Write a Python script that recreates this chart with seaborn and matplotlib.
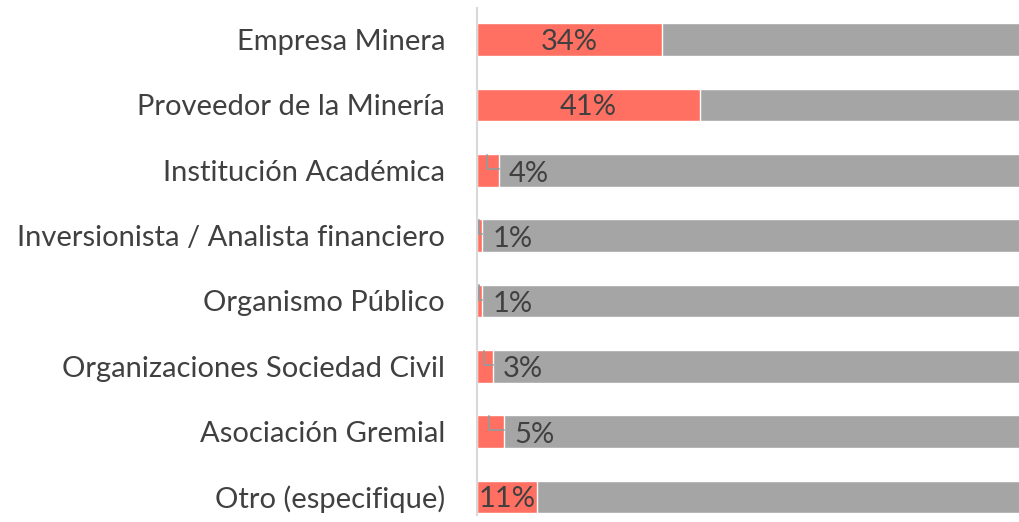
import seaborn as sns
import matplotlib.pyplot as plt
import pandas as pd

categorias = ["Empresa Minera", "Proveedor de la Minería", "Institución Académica",
              "Inversionista / Analista financiero", "Organismo Público",
              "Organizaciones Sociedad Civil", "Asociación Gremial", "Otro (especifique)"]
porcentajes = [34, 41, 4, 1, 1, 3, 5, 11]
total = [100] * len(porcentajes)

rojo = "#ff7062"
gris = "#a5a5a5"
texto = "#404040"

sns.set_style("white")
plt.rcParams['font.family'] = ['Lato', 'DejaVu Sans']

df = pd.DataFrame({"cat": categorias, "pct": porcentajes, "total": total})

fig = plt.figure(figsize=(10.2, 5.22), dpi=100)
ax = fig.add_axes([477 / 1020, 1 - 515 / 522, 1 - 477 / 1020, 507 / 522])

sns.barplot(data=df, x="total", y="cat", color=gris, width=0.5, saturation=1, ax=ax)
sns.barplot(data=df, x="pct", y="cat", color=rojo, width=0.5, saturation=1, ax=ax)

for i, v in enumerate(porcentajes):
    if v >= 10:
        ax.text(v / 2, i + 0.03, f"{v}%", ha="center", va="center", fontsize=21, color=texto)
    else:
        # etiqueta fuera con linea guia
        xl = v * 0.45
        ax.plot([xl, xl, v], [i - 0.24, i - 0.02, i - 0.02], color="#999999", lw=1.3)
        ax.text(v + 1.8, i + 0.05, f"{v}%", ha="left", va="center", fontsize=21, color=texto)

ax.set_xlim(0, 100)
ax.set_ylim(7.278, -0.485)
ax.set_xlabel("")
ax.set_ylabel("")
ax.set_xticks([])
ax.tick_params(axis="y", length=0, labelsize=21, labelcolor=texto, pad=23)
for s in ["top", "right", "bottom"]:
    ax.spines[s].set_visible(False)
ax.spines["left"].set_color("#d9d9d9")
ax.spines["left"].set_linewidth(1.5)

fig.savefig("out.png", dpi=100)
